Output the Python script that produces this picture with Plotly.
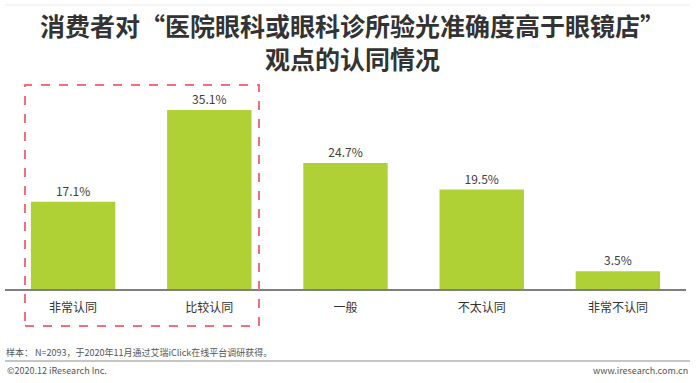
import plotly.graph_objects as go

categories = ["非常认同", "比较认同", "一般", "不太认同", "非常不认同"]
values = [17.1, 35.1, 24.7, 19.5, 3.5]
value_labels = ["17.1%", "35.1%", "24.7%", "19.5%", "3.5%"]

FONT = "Noto Sans CJK SC"
W, H = 700, 383
L, R, T, B = 5, 14, 80, 94
PW = W - L - R
PH = H - T - B


def px_x(x):
    return (x - L) / PW


def px_y(y):
    return (H - B - y) / PH


fig = go.Figure(go.Bar(
    x=categories, y=values, text=value_labels, textposition="outside",
    textfont=dict(size=12, color="#404040", family=FONT),
    marker=dict(color="#B0D136", line=dict(width=0)),
    width=0.62, cliponaxis=False,
))

fig.update_layout(
    width=W, height=H, margin=dict(l=L, r=R, t=T, b=B, autoexpand=False),
    paper_bgcolor="white", plot_bgcolor="white",
    font=dict(family=FONT, color="#333333"),
    showlegend=False,
    xaxis=dict(showline=True, linecolor="#7f7f7f", linewidth=1.5,
               ticks="outside", ticklen=7, tickcolor="rgba(0,0,0,0)",
               tickfont=dict(size=12, color="#333333", family=FONT),
               showgrid=False),
    yaxis=dict(range=[0, 41], visible=False, showgrid=False),
)

# title (two lines)
fig.add_annotation(text="<b>消费者对“医院眼科或眼科诊所验光准确度高于眼镜店”</b><br><b>观点的认同情况</b>",
                   xref="paper", yref="paper", x=px_x(352), y=px_y(41),
                   showarrow=False, font=dict(size=25, color="#333333", family=FONT),
                   xanchor="center", yanchor="middle", align="center")

# footer
fig.add_annotation(text="样本： N=2093，于2020年11月通过艾瑞iClick在线平台调研获得。",
                   xref="paper", yref="paper", x=px_x(4), y=px_y(352),
                   showarrow=False, font=dict(size=9, color="#555555", family=FONT),
                   xanchor="left", yanchor="middle")
fig.add_annotation(text="©2020.12 iResearch Inc.",
                   xref="paper", yref="paper", x=px_x(5), y=px_y(370),
                   showarrow=False, font=dict(size=9, color="#555555", family=FONT),
                   xanchor="left", yanchor="middle")
fig.add_annotation(text="www.iresearch.com.cn",
                   xref="paper", yref="paper", x=px_x(690), y=px_y(370),
                   showarrow=False, font=dict(size=9, color="#555555", family=FONT),
                   xanchor="right", yanchor="middle")

# lines and dashed highlight
fig.add_shape(type="line", xref="paper", yref="paper",
              x0=px_x(5), x1=px_x(690), y0=px_y(361), y1=px_y(361),
              line=dict(color="#8c8c8c", width=1))
fig.add_shape(type="line", xref="paper", yref="paper",
              x0=px_x(5), x1=px_x(690), y0=px_y(5), y1=px_y(5),
              line=dict(color="#ebebeb", width=1))
fig.add_shape(type="rect", xref="paper", yref="paper",
              x0=px_x(25), x1=px_x(259), y0=px_y(326), y1=px_y(85),
              line=dict(color="#F0707A", width=2, dash="dash"))

fig.write_html("out.html", config={"displayModeBar": False},
               post_script="document.body.style.margin='0';document.body.style.padding='0';document.body.style.overflow='hidden';")
